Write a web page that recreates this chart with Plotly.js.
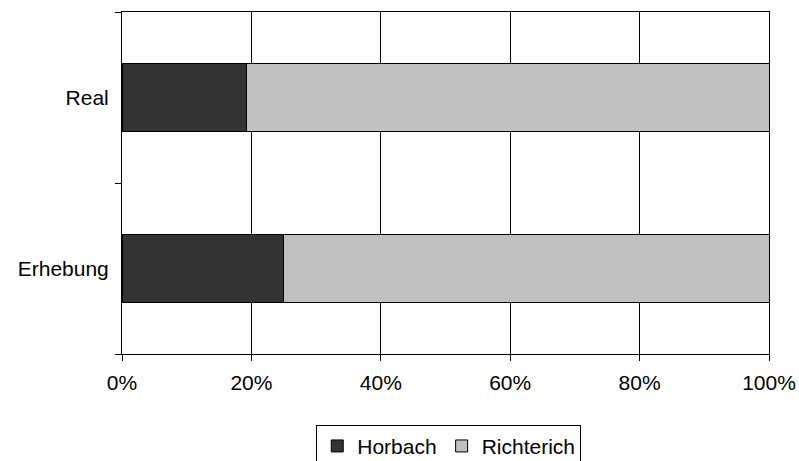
<!DOCTYPE html>
<html><head><meta charset="utf-8">
<script src="https://cdn.plot.ly/plotly-3.0.1.min.js"></script>
<style>html,body{margin:0;padding:0;background:#fff}</style>
</head><body>
<div id="chart" style="width:799px;height:461px"></div>
<script>
const categories = ["Erhebung", "Real"];
const horbach = [25.0, 19.2];
const richterich = [75.0, 80.8];
const xTicks = [0, 20, 40, 60, 80, 100];
const xTickLabels = ["0%", "20%", "40%", "60%", "80%", "100%"];

const data = [
  {type:'bar', orientation:'h', name:'Horbach', y:categories, x:horbach,
   marker:{color:'#333333', line:{color:'#000', width:1}}, hoverinfo:'none'},
  {type:'bar', orientation:'h', name:'Richterich', y:categories, x:richterich,
   marker:{color:'#c0c0c0', line:{color:'#000', width:1}}, hoverinfo:'none'}
];
const layout = {
  width:799, height:461, barmode:'stack', bargap:0.6,
  paper_bgcolor:'#fff', plot_bgcolor:'#fff',
  margin:{l:122, r:30, t:12, b:107, autoexpand:false},
  font:{family:'Liberation Sans, Arial, sans-serif', size:21, color:'#000'},
  xaxis:{range:[0,100], tickvals:xTicks, ticktext:xTickLabels, showgrid:true,
    gridcolor:'#000', gridwidth:1, showline:true, linecolor:'#000', linewidth:1,
    mirror:true, ticks:'outside', ticklen:6, tickcolor:'#000', zeroline:false,
    tickfont:{size:21}, ticklabelstandoff:4},
  yaxis:{type:'category', categoryorder:'array', categoryarray:categories,
    tickson:'boundaries', ticks:'outside', ticklen:6, tickcolor:'#000',
    showline:true, linecolor:'#000', linewidth:1, mirror:true, showgrid:false,
    tickfont:{size:21}, ticklabelstandoff:8},
  legend:{orientation:'h', x:0.505, xanchor:'center', y:-0.207, yanchor:'top',
    bordercolor:'#000', borderwidth:1, font:{size:21}, traceorder:'normal',
    itemwidth:30},
  showlegend:true
};
Plotly.newPlot('chart', data, layout, {staticPlot:true});
</script>
</body></html>
